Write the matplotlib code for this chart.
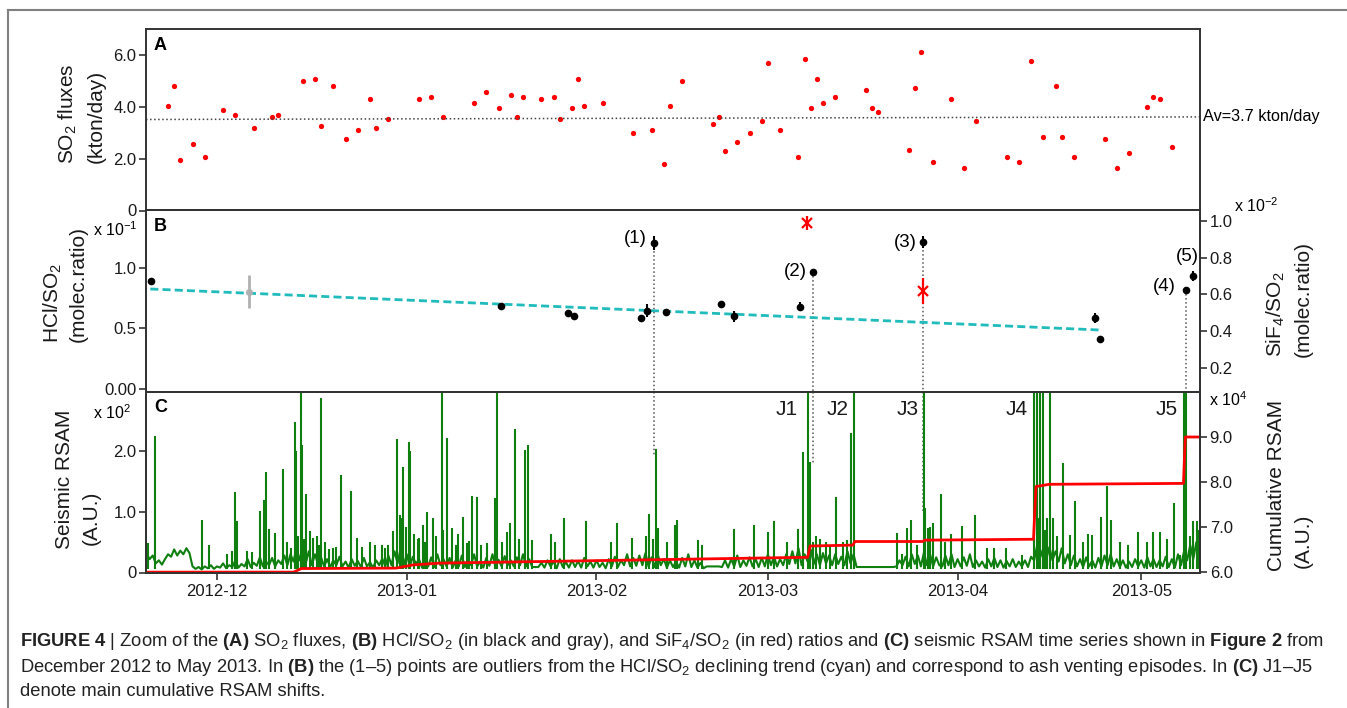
import numpy as np
import matplotlib
matplotlib.use('Agg')
import matplotlib.pyplot as plt
import matplotlib.dates as mdates
from matplotlib.lines import Line2D

plt.rcParams['font.family'] = ['Liberation Sans', 'DejaVu Sans']
plt.rcParams['mathtext.fontset'] = 'custom'
plt.rcParams['mathtext.rm'] = 'Liberation Sans'
plt.rcParams['mathtext.it'] = 'Liberation Sans:italic'
plt.rcParams['mathtext.bf'] = 'Liberation Sans:bold'

# ---------------- data ----------------
# (A) SO2 fluxes, kton/day
so2_dates = ['2012-11-23', '2012-11-24', '2012-11-25', '2012-11-27', '2012-11-29',
             '2012-12-02', '2012-12-04', '2012-12-07', '2012-12-10', '2012-12-11',
             '2012-12-15', '2012-12-17', '2012-12-18', '2012-12-20', '2012-12-22',
             '2012-12-24', '2012-12-26', '2012-12-27', '2012-12-29', '2013-01-03',
             '2013-01-05', '2013-01-07',
             '2013-01-12', '2013-01-14', '2013-01-16', '2013-01-18', '2013-01-19',
             '2013-01-20', '2013-01-23', '2013-01-25', '2013-01-26', '2013-01-28',
             '2013-01-29', '2013-01-30', '2013-02-02', '2013-02-07', '2013-02-10',
             '2013-02-12', '2013-02-13', '2013-02-15', '2013-02-20', '2013-02-21',
             '2013-02-22', '2013-02-24', '2013-02-26', '2013-02-28', '2013-03-01',
             '2013-03-03', '2013-03-06', '2013-03-07', '2013-03-08', '2013-03-09',
             '2013-03-10', '2013-03-12', '2013-03-17', '2013-03-18', '2013-03-19',
             '2013-03-24', '2013-03-25', '2013-03-26', '2013-03-28', '2013-03-31',
             '2013-04-02', '2013-04-04', '2013-04-09', '2013-04-11', '2013-04-13',
             '2013-04-15', '2013-04-17', '2013-04-18', '2013-04-20', '2013-04-25',
             '2013-04-27', '2013-04-29', '2013-05-02', '2013-05-03', '2013-05-04',
             '2013-05-06']
so2_flux = [4.03, 4.82, 1.96, 2.56, 2.05, 3.87, 3.70, 3.17, 3.61, 3.69, 4.99, 5.08,
            3.26, 4.82, 2.75, 3.09, 4.31, 3.17, 3.52, 4.31, 4.38, 3.61,
            4.13, 4.56, 3.96, 4.47, 3.61, 4.38, 4.31, 4.38, 3.52, 3.96, 5.08, 4.03,
            4.13, 3.00, 3.09, 1.79, 4.03, 4.99, 3.35, 3.61, 2.31, 2.66, 3.00, 3.44,
            5.69, 3.09, 2.05, 5.85, 3.96, 5.08, 4.13, 4.38, 4.64, 3.96, 3.78,
            2.32, 4.73, 6.11, 1.88, 4.31, 1.62, 3.44, 2.05, 1.88, 5.78, 2.84, 4.82,
            2.84, 2.05, 2.75, 1.62, 2.23, 4.00, 4.36, 4.29, 2.44]
so2_mean_line = [3.51, 3.61]          # dotted average line, left / right end

# everything below: days after 2012-12-01
# (B) HCl/SO2 (x 10^-1)
hcl_day = [-10.8, 46.4, 57.3, 58.3, 69.2, 70.3, 71.4, 73.4, 82.4, 84.4, 95.3,
           97.3, 115.3, 143.4, 144.3, 158.3, 159.4]
hcl_val = [0.893, 0.687, 0.629, 0.599, 0.585, 0.645, 1.201, 0.637, 0.700, 0.599,
           0.679, 0.967, 1.209, 0.585, 0.410, 0.814, 0.932]
hcl_err = [0, 0, 0, 0, 0, 0.055, 0.055, 0, 0, 0.045, 0.04, 0, 0.05, 0.04, 0, 0, 0.04]
hcl_gray_day = [5.2]
hcl_gray_val = [0.802]
hcl_gray_err = [0.137]
trend_day = [-10.9, 144.3]
trend_val = [0.824, 0.486]
# SiF4/SO2 (x 10^-2)
sif_day = [96.4, 115.3]
sif_val = [0.986, 0.620]
sif_err = [0.038, 0.07]
# outliers (1)-(5): index into hcl arrays
outlier_idx = [6, 11, 12, 15, 16]
outlier_name = ['(1)', '(2)', '(3)', '(4)', '(5)']
dotted_idx = [6, 11, 12, 15]
dotted_end_rsam = [1.93, 1.8, 1.0, 2.3]

# (C) seismic RSAM (x 10^2), background every 12 h from day -11.5
rsam_start_day = -11.5
rsam_base = [
    0.31, 0.22, 0.28, 0.15, 0.20, 0.13, 0.22, 0.30, 0.26, 0.38, 0.28, 0.36, 0.30, 0.40, 0.32, 0.10, 0.06, 0.09, 0.05, 0.10,
    0.07, 0.12, 0.06, 0.10, 0.08, 0.15, 0.07, 0.12, 0.09, 0.20, 0.08, 0.14, 0.10, 0.22, 0.09, 0.16, 0.11, 0.25, 0.10, 0.18,
    0.12, 0.24, 0.10, 0.20, 0.14, 0.28, 0.12, 0.30, 0.18, 0.42, 0.20, 0.38, 0.15, 0.35, 0.12, 0.30, 0.14, 0.25, 0.10, 0.22,
    0.09, 0.20, 0.12, 0.26, 0.10, 0.18, 0.08, 0.22, 0.11, 0.19, 0.09, 0.24, 0.10, 0.17, 0.08, 0.20, 0.12, 0.23, 0.10, 0.28,
    0.12, 0.35, 0.15, 0.40, 0.12, 0.30, 0.10, 0.26, 0.14, 0.22, 0.08, 0.20, 0.10, 0.25, 0.09, 0.30, 0.12, 0.22, 0.10, 0.24,
    0.08, 0.20, 0.10, 0.28, 0.09, 0.22, 0.12, 0.30, 0.10, 0.18, 0.08, 0.24, 0.11, 0.30, 0.09, 0.21, 0.10, 0.27, 0.12, 0.20,
    0.10, 0.25, 0.12, 0.30, 0.10, 0.22, 0.09, 0.09, 0.09, 0.16, 0.08, 0.20, 0.10, 0.18, 0.07, 0.22, 0.09, 0.17, 0.08, 0.20,
    0.09, 0.19, 0.08, 0.24, 0.10, 0.18, 0.08, 0.20, 0.09, 0.16, 0.07, 0.22, 0.10, 0.26, 0.09, 0.20, 0.12, 0.30, 0.10, 0.24,
    0.11, 0.28, 0.12, 0.32, 0.10, 0.25, 0.09, 0.30, 0.12, 0.22, 0.08, 0.20, 0.09, 0.18, 0.08, 0.24, 0.10, 0.30, 0.09, 0.20,
    0.08, 0.16, 0.07, 0.10, 0.10, 0.10, 0.10, 0.10, 0.09, 0.20, 0.08, 0.22, 0.10, 0.28, 0.09, 0.20, 0.11, 0.25, 0.10, 0.22,
    0.09, 0.24, 0.10, 0.30, 0.12, 0.26, 0.10, 0.22, 0.12, 0.30, 0.14, 0.35, 0.15, 0.40, 0.12, 0.30, 0.18, 0.38, 0.14, 0.30,
    0.12, 0.32, 0.15, 0.28, 0.12, 0.30, 0.14, 0.26, 0.12, 0.35, 0.15, 0.30, 0.09, 0.09, 0.09, 0.09, 0.09, 0.09, 0.09, 0.09,
    0.09, 0.09, 0.09, 0.09, 0.09, 0.10, 0.20, 0.12, 0.26, 0.10, 0.30, 0.14, 0.28, 0.10, 0.33, 0.12, 0.30, 0.10, 0.25, 0.12,
    0.10, 0.28, 0.12, 0.30, 0.09, 0.22, 0.10, 0.25, 0.11, 0.30, 0.09, 0.20, 0.10, 0.18, 0.08, 0.22, 0.10, 0.24, 0.09, 0.20,
    0.08, 0.19, 0.10, 0.22, 0.09, 0.18, 0.10, 0.20, 0.09, 0.26, 0.20, 0.45, 0.25, 0.40, 0.22, 0.42, 0.20, 0.35, 0.18, 0.40,
    0.15, 0.30, 0.12, 0.28, 0.10, 0.22, 0.09, 0.25, 0.10, 0.20, 0.08, 0.24, 0.10, 0.28, 0.12, 0.30, 0.10, 0.22, 0.09, 0.20,
    0.08, 0.18, 0.09, 0.22, 0.10, 0.20, 0.08, 0.25, 0.10, 0.22, 0.09, 0.20, 0.10, 0.26, 0.09, 0.22, 0.08, 0.30, 0.12, 0.35,
    0.20, 0.45, 0.22, 0.50, 0.30, 0.42]
spike_day = [-11.2, -10.08, -2.4, -1.25, 1.6, 2.4, 2.94, 3.32, 4.85, 5.66, 6.97, 7.68,
             7.95, 8.55, 9.53, 10.84, 12.04, 12.69, 12.91, 13.73, 13.89, 14.6, 15.2,
             15.74, 17.05, 17.65, 18.9, 20.32, 21.84, 22.82, 23.64, 25.0, 25.8, 26.9,
             28.0, 28.8, 29.41, 29.9, 30.17, 30.45, 31.32, 31.54, 32.24, 33.0, 33.6,
             34.37, 35.35, 36.71, 37.53,
             38.34, 39.43, 40.25, 40.8, 41.72, 42.43, 44.06, 45.42, 45.8, 47.33, 47.88,
             48.7, 50.33, 50.87, 51.4, 54.52, 55.2, 56.7, 60.3, 64.3, 65.3, 67.76,
             70.64, 71.73, 72.1, 74.84, 75.2, 78.6, 79.3, 84.4, 87.8, 90.1, 91.07,
             93.1, 95.0, 95.8, 96.6, 96.9, 97.4, 101.1, 103.0, 103.5, 104.1,
             111.06, 111.9, 112.7, 113.4, 114.3, 115.58, 115.7, 116.1, 116.5, 117.05,
             118.3, 119.0, 119.9, 121.68, 123.9, 125.8, 126.9, 128.9, 131.5, 133.5,
             133.9, 134.4, 134.5, 134.9, 135.6, 136.1, 136.6, 138.2, 139.4, 140.25,
             142.3, 142.9, 144.45, 145.4, 146.1, 147.6, 150.4, 153.0, 154.1, 156.4,
             157.4, 158.0, 158.3, 159.5, 160.05,
             11.5, 13.2, 14.2, 16.3, 16.6, 18.3, 19.5, 27.4, 30.8, 32.8, 34.0, 35.8,
             37.0, 39.0, 41.1, 43.2, 46.5, 49.3, 70.1, 71.2, 73.5, 97.8, 98.5, 99.5,
             100.2, 102.2, 134.1, 135.2, 137.2, 141.5, 148.8, 152.0, 155.2, 159.0, 160.4]
spike_peak = [0.48, 2.25, 0.86, 0.45, 0.30, 0.35, 1.32, 0.84, 0.35, 0.33, 1.01, 1.20,
              1.65, 0.72, 0.65, 1.71, 0.40, 2.47, 2.00, 3.50, 2.10, 1.30, 0.69,
              0.56, 2.87, 0.50, 0.40, 1.60, 1.35, 0.56, 0.42, 0.50, 0.45, 0.45,
              0.46, 0.69, 2.19, 0.95, 0.89, 1.74, 2.15, 2.00, 0.64, 0.56, 0.78,
              1.00, 0.89, 3.50, 2.21,
              0.73, 0.63, 0.92, 0.48, 1.26, 1.25, 0.49, 1.22, 3.50, 0.67, 0.81,
              2.37, 2.02, 2.10, 0.53, 0.63, 0.50, 0.90, 0.84, 0.50, 0.81, 0.56,
              0.97, 2.04, 0.73, 0.78, 0.86, 0.53, 0.46, 0.71, 0.78, 0.67, 0.84,
              0.50, 0.71, 1.98, 3.50, 1.82, 0.50, 1.25, 0.53, 2.29, 3.50,
              0.65, 0.31, 0.73, 0.86, 0.45, 3.50, 1.06, 0.74, 0.75, 0.81,
              1.30, 0.50, 0.64, 0.76, 0.95, 0.40, 0.41, 0.41, 0.29, 3.50,
              3.50, 3.50, 1.33, 3.50, 0.89, 3.50, 0.89, 1.81, 0.62, 1.17,
              0.64, 0.62, 0.92, 1.42, 0.86, 0.50, 0.67, 0.67, 0.67, 1.14,
              0.29, 3.50, 3.50, 0.85, 0.84,
              0.50, 0.60, 0.55, 0.60, 0.45, 0.38, 0.42, 0.40, 0.75, 0.55, 0.50, 0.60,
              0.70, 0.45, 0.52, 0.45, 0.50, 0.55, 0.60, 0.55, 0.50, 0.60, 0.55, 0.50,
              0.45, 0.50, 0.90, 0.70, 0.60, 0.50, 0.45, 0.50, 0.55, 0.60, 0.70]
# cumulative RSAM (x 10^4)
cum_day = [-11.5, 12.5, 13.8, 29.3, 32.0, 36.4, 96.5, 96.9, 103.9, 104.2, 115.3,
           115.6, 133.4, 133.8, 136.0, 157.9, 158.2, 161.0]
cum_val = [5.99, 5.99, 6.07, 6.08, 6.15, 6.19, 6.32, 6.57, 6.59, 6.67, 6.67,
           6.70, 6.72, 7.89, 7.94, 7.96, 8.99, 8.99]
jump_day = [96.6, 104.1, 115.6, 133.5, 158.0]
jump_name = ['J1', 'J2', 'J3', 'J4', 'J5']

caption = [
    r"$\bf{FIGURE\ 4}$ | Zoom of the $\bf{(A)}$ SO$_2$ fluxes, $\bf{(B)}$ HCl/SO$_2$ (in black and gray), "
    r"and SiF$_4$/SO$_2$ (in red) ratios and $\bf{(C)}$ seismic RSAM time series shown in $\bf{Figure\ 2}$ from",
    r"December 2012 to May 2013. In $\bf{(B)}$ the (1–5) points are outliers from the HCl/SO$_2$ "
    r"declining trend (cyan) and correspond to ash venting episodes. In $\bf{(C)}$ J1–J5",
    "denote main cumulative RSAM shifts.",
]

# ---------------- figure ----------------
W, H = 1347, 708
fig = plt.figure(figsize=(W / 100, H / 100), dpi=100)


def fx(x):
    return x / W


def fy(y):
    return 1 - y / H


L, R = 146, 1200


def box(top, bottom):
    return [fx(L), fy(bottom), (R - L) / W, (bottom - top) / H]


ax_a = fig.add_axes(box(29, 210.5))
ax_b = fig.add_axes(box(210.5, 391.5))
ax_c = fig.add_axes(box(391.5, 572.5))
ax_b2 = ax_b.twinx()
ax_c2 = ax_c.twinx()

t0 = mdates.datestr2num('2012-12-01')
x_lo, x_hi = t0 - 11.6, t0 + 160.6
dark = '#333333'
green = '#0f7f0f'

for ax in (ax_a, ax_b, ax_c, ax_b2, ax_c2):
    for s in ax.spines.values():
        s.set_color(dark)
        s.set_linewidth(1.4)
    ax.tick_params(direction='out', length=5, width=1.2, color=dark,
                   labelsize=12, labelcolor='#1a1a1a', pad=2)
    ax.set_xlim(x_lo, x_hi)

for ax in (ax_a, ax_c):
    ax.xaxis.set_major_locator(mdates.MonthLocator())
    ax.xaxis.set_major_formatter(mdates.DateFormatter('%Y-%m'))
ax_a.tick_params(axis='x', labelbottom=False)
ax_b.tick_params(axis='x', bottom=False, labelbottom=False)
ax_c.tick_params(axis='x', pad=3)

# (A)
so2_x = mdates.datestr2num(so2_dates)
ax_a.plot(so2_x, so2_flux, 'o', color='red', ms=3.8, mec='none')
ax_a.plot([x_lo, x_hi], so2_mean_line, ':', color='#444444', lw=1.1)
ax_a.set_ylim(0, 7.0)
ax_a.set_yticks([0, 2, 4, 6], ['0', '2.0', '4.0', '6.0'])

# (B)
hx = t0 + np.array(hcl_day)
ax_b.plot(t0 + np.array(trend_day), trend_val, color='#22bbbb', lw=2,
          ls=(0, (2.9, 1.5)), zorder=2)
ax_b.errorbar(t0 + np.array(hcl_gray_day), hcl_gray_val, yerr=hcl_gray_err, fmt='o',
              color='#b0b0b0', ms=4, elinewidth=2, capsize=0, zorder=3)
ax_b.errorbar(hx, hcl_val, yerr=hcl_err, fmt='o', color='black', ms=4.5,
              elinewidth=1.5, capsize=0, zorder=4)
ax_b.set_ylim(-0.02, 1.47)
ax_b.set_yticks([0, 0.5, 1.0], ['0.00', '0.5', '1.0'])

ax_b2.errorbar(t0 + np.array(sif_day), sif_val, yerr=sif_err, fmt='x', color='red',
               ms=7, mew=1.6, elinewidth=1.6, capsize=0)
ax_b2.set_ylim(0.074, 1.055)
ax_b2.set_yticks([0.2, 0.4, 0.6, 0.8, 1.0], ['0.2', '0.4', '0.6', '0.8', '1.0'])

offsets = [(-7, 5), (-6, 0), (-6, 0), (-10, 4), (6, 19)]
for i, name, (dx, dy) in zip(outlier_idx, outlier_name, offsets):
    ax_b.annotate(name, xy=(hx[i], hcl_val[i]), xytext=(dx * 0.72, dy * 0.72),
                  textcoords='offset points', ha='right', va='center', fontsize=13.5)

for i, end in zip(dotted_idx, dotted_end_rsam):
    ax_b.plot([hx[i], hx[i]], [hcl_val[i], -0.02], ':', color='#555555', lw=1.1, zorder=1)
    ax_c.plot([hx[i], hx[i]], [2.98, end], ':', color='#555555', lw=1.1, zorder=1)

# (C)
rsam_x = t0 + rsam_start_day + 0.5 * np.arange(len(rsam_base))
ax_c.plot(rsam_x, rsam_base, color=green, lw=1.5, zorder=2)
ax_c.vlines(t0 + np.array(spike_day), 0.06, spike_peak, color=green, lw=1.5, zorder=2)
ax_c.set_ylim(0, 2.98)
ax_c.set_yticks([0, 1, 2], ['0', '1.0', '2.0'])

ax_c2.plot(t0 + np.array(cum_day), cum_val, color='red', lw=2)
ax_c2.set_ylim(5.982, 10.0)
ax_c2.set_yticks([6, 7, 8, 9], ['6.0', '7.0', '8.0', '9.0'])

j_off = [-11, -6, -6, -6, -6]
for d, name, off in zip(jump_day, jump_name, j_off):
    ax_c.annotate(name, xy=(t0 + d, 0.898), xycoords=('data', 'axes fraction'),
                  xytext=(off * 0.72, 0), textcoords='offset points',
                  ha='right', va='center', fontsize=15, color='#1a1a1a')

# panel letters
for ax, letter in ((ax_a, 'A'), (ax_b, 'B'), (ax_c, 'C')):
    ax.text(0.0075, 0.91, letter, transform=ax.transAxes, fontsize=13,
            fontweight='bold', va='center', ha='left')

# axis labels: one text per line, both lines starting at the same height
lab = dict(rotation=90, ha='center', va='bottom', fontsize=15, color='#1a1a1a')
ylabels = [('SO$_2$ fluxes', 68, 164), ('(kton/day)', 96, 163),
           ('HCl/SO$_2$', 53, 343), ('(molec.ratio)', 78, 342),
           ('Seismic RSAM', 64, 549), ('(A.U.)', 91, 545),
           ('SiF$_4$/SO$_2$', 1276, 357), ('(molec.ratio)', 1303, 357),
           ('Cumulative RSAM', 1276, 571), ('(A.U.)', 1303, 568)]
for s, x, y in ylabels:
    fig.text(fx(x), fy(y), s, **lab)

fig.text(fx(115), fy(230), r'x 10$^{-1}$', ha='center', va='center', fontsize=11.5)
fig.text(fx(112), fy(413), r'x 10$^{2}$', ha='center', va='center', fontsize=11.5)
fig.text(fx(1256), fy(206), r'x 10$^{-2}$', ha='center', va='center', fontsize=11.5)
fig.text(fx(1228), fy(400), r'x 10$^{4}$', ha='center', va='center', fontsize=11.5)
fig.text(fx(1203), fy(117), 'Av=3.7 kton/day', ha='left', va='center', fontsize=11.7)

# outer frame (top and left edges)
fig.add_artist(Line2D([fx(8), fx(8)], [fy(10), 0], color='#808080', lw=1.5))
fig.add_artist(Line2D([fx(8), 1], [fy(10), fy(10)], color='#808080', lw=1.5))

# caption, sized so the first line spans the same width as in the figure
cap = [fig.text(fx(20), fy(y), s, fontsize=12, va='center', ha='left', color='#222222')
       for s, y in zip(caption, [642, 667, 691])]
fig.canvas.draw()
w = cap[0].get_window_extent(fig.canvas.get_renderer()).width
for t in cap:
    t.set_fontsize(12 * 1298 / w)

fig.savefig('out.png', dpi=100)
